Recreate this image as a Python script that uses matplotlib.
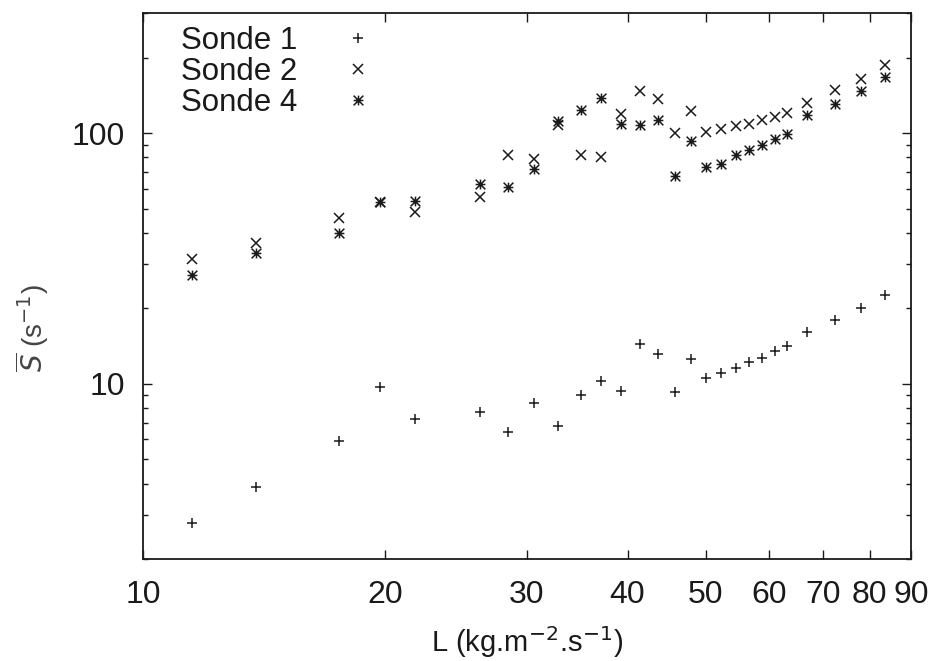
import numpy as np
import matplotlib.pyplot as plt
from matplotlib.path import Path
from matplotlib.ticker import NullLocator, FixedLocator, NullFormatter

plt.rcParams['font.family'] = ['Liberation Sans', 'DejaVu Sans']
plt.rcParams['mathtext.fontset'] = 'dejavusans'

# flow rate L (kg.m-2.s-1)
L = [11.5, 13.8, 17.5, 19.7, 21.8, 26.2, 28.4, 30.6, 32.8, 35.0, 37.1, 39.3, 41.4, 43.6,
     45.8, 47.9, 50.1, 52.2, 54.5, 56.6, 58.8, 61.0, 63.2, 66.8, 72.4, 78.0, 83.6]

# mean S (s-1) for each probe
sonde1 = [2.79, 3.87, 5.93, 9.75, 7.26, 7.69, 6.40, 8.38, 6.81, 9.04, 10.3, 9.38, 14.4, 13.1,
          9.29, 12.5, 10.5, 11.0, 11.6, 12.2, 12.7, 13.5, 14.1, 16.1, 18.0, 20.1, 22.5]
sonde2 = [31.6, 36.4, 45.7, 53.0, 48.6, 55.6, 81.7, 78.5, 108, 81.5, 80.0, 119, 147, 137,
          100, 123, 101, 104, 107, 109, 113, 116, 120, 132, 148, 165, 187]
sonde4 = [27.1, 33.3, 40.1, 53.0, 53.7, 62.5, 60.8, 71.6, 112, 124, 138, 109, 108, 113,
          67.6, 93, 73, 75, 82, 86, 90, 95, 99, 118, 131, 147, 168]

x_ticks = [10, 20, 30, 40, 50, 60, 70, 80, 90]
y_ticks = [10, 100]

# gnuplot style asterisk: + and x on top of each other
star = Path([(-1, 0), (1, 0), (0, -1), (0, 1), (-1, -1), (1, 1), (-1, 1), (1, -1)],
            [Path.MOVETO, Path.LINETO] * 4)

ink = '#1a1a1a'
fig = plt.figure(figsize=(9.31, 6.61), dpi=100)
ax = fig.add_axes([0.1536, 0.1543, 0.8249, 0.8253])

ax.plot(L, sonde1, linestyle='none', marker='+', markersize=6.5, markeredgewidth=1.1,
        color=ink, label='Sonde 1')
ax.plot(L, sonde2, linestyle='none', marker='x', markersize=6.5, markeredgewidth=1.1,
        color=ink, label='Sonde 2')
ax.plot(L, sonde4, linestyle='none', marker=star, markersize=7, markeredgewidth=1.1,
        color=ink, label='Sonde 4')

ax.set_xscale('log')
ax.set_yscale('log')
ax.set_xlim(10, 90)
ax.set_ylim(2, 300)

ax.xaxis.set_major_locator(FixedLocator(x_ticks))
ax.xaxis.set_minor_locator(NullLocator())
ax.set_xticklabels([str(t) for t in x_ticks])
ax.yaxis.set_major_locator(FixedLocator(y_ticks))
ax.yaxis.set_minor_locator(FixedLocator([2, 3, 4, 5, 6, 7, 8, 9, 20, 30, 40, 50, 60, 70, 80, 90, 200, 300]))
ax.set_yticklabels([str(t) for t in y_ticks])
ax.yaxis.set_minor_formatter(NullFormatter())

ax.tick_params(which='both', direction='in', top=True, right=True, width=1.0, color=ink,
               labelsize=23, labelcolor=ink)
ax.tick_params(which='major', length=6.5)
ax.tick_params(which='minor', length=3.3)
ax.tick_params(axis='x', pad=15)
ax.tick_params(axis='y', pad=13)
for s in ax.spines.values():
    s.set_linewidth(1.3)
    s.set_color(ink)

ax.set_xlabel('L (kg.m$^{-2}$.s$^{-1}$)', fontsize=21, color=ink, labelpad=10)
ax.set_ylabel(r'$\overline{S}$ (s$^{-1}$)', fontsize=20, color='#444444')
ax.yaxis.set_label_coords(-0.12, 0.423)

ax.legend(loc='upper left', bbox_to_anchor=(0.025, 1.012), frameon=False, fontsize=22.5,
          markerfirst=False, handlelength=1.0, handletextpad=1.45, labelspacing=0.04,
          borderaxespad=0.2, labelcolor=ink)

fig.savefig('out.png', dpi=100)
